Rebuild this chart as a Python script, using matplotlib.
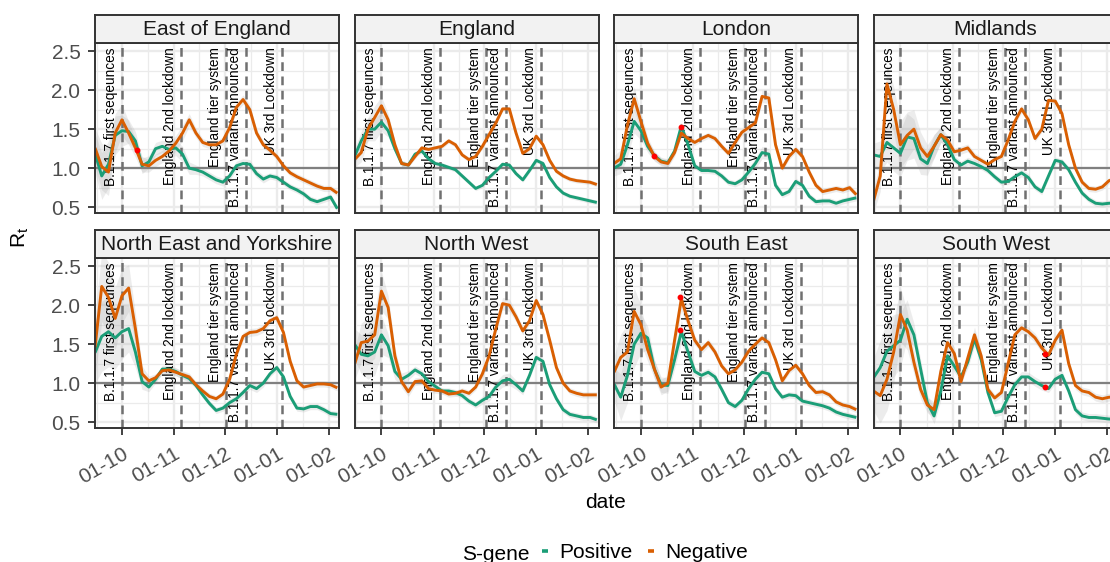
import matplotlib
matplotlib.use("Agg")
import matplotlib.pyplot as plt
import matplotlib.dates as mdates
from matplotlib.lines import Line2D
from matplotlib.ticker import FixedLocator
import pandas as pd

plt.rcParams['font.family'] = ['Liberation Sans', 'DejaVu Sans']
plt.rcParams['mathtext.fontset'] = 'custom'
plt.rcParams['mathtext.rm'] = 'Liberation Sans'
plt.rcParams['mathtext.it'] = 'Liberation Sans:italic'

# ---------------- data ----------------
dates = pd.date_range("2020-09-15", periods=37, freq="4D")

regions = ["East of England", "England", "London", "Midlands",
           "North East and Yorkshire", "North West", "South East", "South West"]

pos_east_of_england = [1.19, 0.90, 1.05, 1.42, 1.48, 1.47, 1.35, 1.03, 1.08, 1.25, 1.28, 1.24, 1.26, 1.18, 1.00, 0.98, 0.95, 0.90, 0.85, 0.82, 0.90, 1.03, 1.06, 1.05, 0.93, 0.86, 0.90, 0.88, 0.82, 0.76, 0.72, 0.67, 0.60, 0.57, 0.60, 0.63, 0.48]
neg_east_of_england = [1.26, 1.02, 0.95, 1.45, 1.62, 1.45, 1.26, 1.05, 1.03, 1.10, 1.15, 1.22, 1.32, 1.45, 1.62, 1.45, 1.33, 1.30, 1.30, 1.35, 1.52, 1.78, 1.88, 1.75, 1.45, 1.30, 1.23, 1.15, 1.03, 0.94, 0.89, 0.85, 0.81, 0.77, 0.74, 0.74, 0.68]

pos_england = [1.15, 1.35, 1.50, 1.50, 1.59, 1.48, 1.25, 1.06, 1.04, 1.18, 1.22, 1.12, 1.06, 1.04, 1.01, 0.98, 0.90, 0.82, 0.74, 0.78, 0.88, 0.96, 1.05, 1.04, 0.93, 0.85, 0.97, 1.10, 1.06, 0.88, 0.76, 0.68, 0.64, 0.62, 0.60, 0.58, 0.56]
neg_england = [1.11, 1.20, 1.50, 1.65, 1.80, 1.62, 1.30, 1.06, 1.04, 1.15, 1.26, 1.24, 1.26, 1.28, 1.35, 1.30, 1.17, 1.11, 1.15, 1.28, 1.43, 1.58, 1.76, 1.76, 1.45, 1.19, 1.25, 1.41, 1.30, 1.10, 0.96, 0.90, 0.86, 0.84, 0.83, 0.82, 0.79]

pos_london = [1.00, 1.05, 1.30, 1.60, 1.48, 1.28, 1.16, 1.09, 1.07, 1.22, 1.54, 1.30, 1.03, 0.97, 0.97, 0.96, 0.90, 0.82, 0.80, 0.85, 0.95, 1.06, 1.20, 1.18, 0.78, 0.66, 0.70, 0.83, 0.78, 0.64, 0.57, 0.58, 0.58, 0.55, 0.58, 0.60, 0.62]
neg_london = [1.06, 1.12, 1.55, 1.89, 1.60, 1.32, 1.15, 1.08, 1.06, 1.20, 1.45, 1.38, 1.33, 1.38, 1.42, 1.38, 1.28, 1.19, 1.33, 1.46, 1.52, 1.58, 1.92, 1.90, 1.30, 1.00, 1.15, 1.24, 1.15, 0.95, 0.78, 0.70, 0.72, 0.74, 0.72, 0.75, 0.66]

pos_midlands = [1.17, 1.15, 1.33, 1.26, 1.19, 1.40, 1.38, 1.12, 1.06, 1.28, 1.43, 1.30, 1.11, 1.04, 1.09, 1.06, 1.02, 0.97, 0.89, 0.82, 0.83, 0.89, 0.94, 0.88, 0.76, 0.70, 0.90, 1.10, 1.08, 0.98, 0.82, 0.68, 0.60, 0.55, 0.54, 0.55, 0.55]
neg_midlands = [0.58, 0.90, 2.08, 1.75, 1.30, 1.42, 1.50, 1.26, 1.15, 1.28, 1.43, 1.36, 1.21, 1.23, 1.26, 1.15, 1.10, 1.05, 1.11, 1.15, 1.36, 1.60, 1.76, 1.62, 1.38, 1.50, 1.87, 1.86, 1.70, 1.30, 1.00, 0.82, 0.74, 0.73, 0.76, 0.84, 0.86]

pos_north_east = [1.39, 1.60, 1.66, 1.58, 1.66, 1.70, 1.40, 1.02, 0.95, 1.05, 1.18, 1.18, 1.15, 1.10, 1.06, 0.97, 0.85, 0.74, 0.65, 0.68, 0.75, 0.80, 0.88, 0.97, 0.93, 1.00, 1.12, 1.20, 1.08, 0.83, 0.68, 0.67, 0.70, 0.70, 0.66, 0.61, 0.60]
neg_north_east = [1.46, 2.24, 2.10, 1.83, 2.12, 2.22, 1.70, 1.12, 1.03, 1.07, 1.16, 1.17, 1.14, 1.11, 1.08, 0.98, 0.90, 0.83, 0.80, 0.86, 1.05, 1.37, 1.60, 1.65, 1.66, 1.70, 1.80, 1.84, 1.65, 1.28, 1.03, 0.95, 0.97, 0.99, 0.99, 0.98, 0.94]

pos_north_west = [1.50, 1.37, 1.35, 1.40, 1.62, 1.48, 1.15, 1.05, 1.10, 1.17, 1.12, 1.02, 0.96, 0.90, 0.90, 0.88, 0.84, 0.77, 0.72, 0.78, 0.83, 0.95, 1.03, 1.05, 0.98, 0.90, 1.10, 1.33, 1.28, 0.98, 0.80, 0.66, 0.60, 0.58, 0.56, 0.56, 0.53]
neg_north_west = [1.24, 1.52, 1.54, 1.62, 2.18, 1.97, 1.35, 1.02, 0.89, 1.02, 1.03, 0.93, 0.91, 0.90, 0.86, 0.87, 0.90, 0.87, 0.95, 1.12, 1.35, 1.70, 2.02, 2.00, 1.85, 1.67, 1.80, 2.06, 1.88, 1.55, 1.20, 1.00, 0.90, 0.87, 0.85, 0.85, 0.85]

pos_south_east = [0.99, 0.82, 1.10, 1.50, 1.64, 1.58, 1.18, 0.98, 0.97, 1.30, 1.66, 1.40, 1.15, 1.10, 1.14, 1.08, 0.92, 0.75, 0.70, 0.78, 0.93, 1.05, 1.14, 1.12, 0.93, 0.82, 0.85, 0.84, 0.77, 0.75, 0.73, 0.71, 0.68, 0.63, 0.60, 0.58, 0.56]
neg_south_east = [1.14, 1.33, 1.40, 1.92, 1.75, 1.43, 1.18, 0.95, 1.00, 1.55, 2.08, 1.80, 1.55, 1.43, 1.52, 1.40, 1.22, 1.12, 1.17, 1.27, 1.41, 1.50, 1.58, 1.52, 1.30, 1.03, 1.16, 1.23, 1.12, 0.97, 0.88, 0.89, 0.85, 0.76, 0.72, 0.70, 0.66]

pos_south_west = [1.07, 1.20, 1.41, 1.48, 1.55, 1.82, 1.62, 1.18, 0.75, 0.58, 0.90, 1.35, 1.22, 1.08, 1.27, 1.57, 1.30, 0.88, 0.62, 0.64, 0.82, 0.98, 1.08, 1.08, 1.02, 0.97, 0.93, 1.05, 1.10, 0.90, 0.66, 0.58, 0.56, 0.56, 0.55, 0.54, 0.54]
neg_south_west = [0.90, 0.84, 1.05, 1.40, 1.88, 1.68, 1.27, 0.92, 0.72, 0.66, 1.15, 1.52, 1.38, 1.02, 1.32, 1.62, 1.35, 0.92, 0.81, 0.88, 1.25, 1.62, 1.71, 1.66, 1.58, 1.45, 1.36, 1.55, 1.68, 1.25, 0.97, 0.90, 0.88, 0.82, 0.80, 0.82, 0.82]

# half-width of the grey uncertainty ribbon
band_east_of_england = [0.25, 0.30, 0.30, 0.25, 0.20, 0.15, 0.12, 0.10, 0.08, 0.08, 0.08, 0.10, 0.10, 0.10, 0.08, 0.06, 0.05, 0.05, 0.05, 0.05, 0.05, 0.06, 0.06, 0.06, 0.05, 0.05, 0.04, 0.04, 0.04, 0.04, 0.04, 0.04, 0.04, 0.04, 0.04, 0.04, 0.04]
band_england = [0.10, 0.12, 0.15, 0.15, 0.12, 0.08, 0.05, 0.04, 0.03, 0.03, 0.03, 0.03, 0.03, 0.03, 0.03, 0.03, 0.03, 0.03, 0.03, 0.03, 0.03, 0.03, 0.03, 0.03, 0.03, 0.03, 0.03, 0.03, 0.03, 0.03, 0.03, 0.03, 0.03, 0.03, 0.03, 0.03, 0.03]
band_london = [0.10, 0.12, 0.15, 0.15, 0.12, 0.08, 0.06, 0.05, 0.05, 0.05, 0.05, 0.05, 0.04, 0.04, 0.04, 0.04, 0.04, 0.04, 0.04, 0.05, 0.06, 0.07, 0.08, 0.07, 0.05, 0.04, 0.04, 0.04, 0.04, 0.04, 0.04, 0.04, 0.04, 0.04, 0.04, 0.04, 0.04]
band_midlands = [0.15, 0.20, 0.25, 0.30, 0.30, 0.30, 0.25, 0.20, 0.15, 0.15, 0.10, 0.06, 0.05, 0.05, 0.05, 0.05, 0.04, 0.04, 0.04, 0.04, 0.04, 0.05, 0.05, 0.05, 0.04, 0.04, 0.04, 0.04, 0.04, 0.04, 0.04, 0.04, 0.04, 0.04, 0.04, 0.04, 0.04]
band_north_east = [0.40, 0.45, 0.45, 0.40, 0.35, 0.30, 0.20, 0.10, 0.06, 0.05, 0.05, 0.05, 0.05, 0.05, 0.05, 0.04, 0.04, 0.04, 0.04, 0.04, 0.05, 0.05, 0.05, 0.05, 0.05, 0.05, 0.04, 0.04, 0.04, 0.04, 0.04, 0.04, 0.04, 0.04, 0.04, 0.04, 0.04]
band_north_west = [0.20, 0.25, 0.30, 0.30, 0.25, 0.15, 0.10, 0.08, 0.06, 0.05, 0.05, 0.05, 0.04, 0.04, 0.04, 0.04, 0.04, 0.04, 0.04, 0.05, 0.06, 0.07, 0.08, 0.08, 0.06, 0.05, 0.04, 0.04, 0.04, 0.04, 0.04, 0.04, 0.04, 0.04, 0.04, 0.04, 0.04]
band_south_east = [0.20, 0.30, 0.35, 0.30, 0.25, 0.15, 0.12, 0.10, 0.10, 0.12, 0.15, 0.10, 0.06, 0.05, 0.05, 0.05, 0.04, 0.04, 0.04, 0.04, 0.05, 0.05, 0.05, 0.05, 0.04, 0.04, 0.04, 0.04, 0.04, 0.04, 0.04, 0.04, 0.04, 0.04, 0.04, 0.04, 0.04]
band_south_west = [0.25, 0.35, 0.40, 0.40, 0.35, 0.25, 0.15, 0.12, 0.10, 0.10, 0.12, 0.10, 0.08, 0.06, 0.08, 0.10, 0.06, 0.05, 0.05, 0.05, 0.06, 0.07, 0.07, 0.06, 0.06, 0.06, 0.05, 0.06, 0.06, 0.05, 0.05, 0.05, 0.05, 0.05, 0.05, 0.05, 0.05]

positive = [pos_east_of_england, pos_england, pos_london, pos_midlands,
            pos_north_east, pos_north_west, pos_south_east, pos_south_west]
negative = [neg_east_of_england, neg_england, neg_london, neg_midlands,
            neg_north_east, neg_north_west, neg_south_east, neg_south_west]
bands = [band_east_of_england, band_england, band_london, band_midlands,
         band_north_east, band_north_west, band_south_east, band_south_west]

event_labels = ["B.1.1.7 first seqeunces", "England 2nd lockdown", "England tier system",
                "B.1.1.7 variant announced", "UK 3rd Lockdown"]
event_dates = pd.to_datetime(["2020-10-01", "2020-11-05", "2020-12-02", "2020-12-14", "2021-01-04"])

red_regions = ["East of England", "London", "London", "South East", "South East", "South West", "South West"]
red_dates = pd.to_datetime(["2020-10-10", "2020-10-09", "2020-10-25", "2020-10-24", "2020-10-24", "2020-12-26", "2020-12-26"])
red_values = [1.23, 1.16, 1.53, 2.11, 1.68, 1.37, 0.95]

series_labels = ["Positive", "Negative"]
series_colors = ["#1B9E77", "#D95F02"]

# ---------------- layout ----------------
W, H = 1110, 562
fig = plt.figure(figsize=(W / 100, H / 100), dpi=100)

col_left = [95, 354.5, 614, 873.5]
panel_w = 244
row_top = [43, 258]
panel_h = 170
strip_h = 28.5

xlim = (pd.Timestamp("2020-09-15"), pd.Timestamp("2021-02-07"))
ylim = (0.425, 2.605)
month_starts = pd.date_range("2020-09-01", "2021-03-01", freq="MS")
minor_x = [mdates.date2num(a + (b - a) / 2) for a, b in zip(month_starts[:-1], month_starts[1:])]

border_col = "#333333"
for i, region in enumerate(regions):
    r, c = divmod(i, 4)
    x0, y0 = col_left[c], row_top[r]
    ax = fig.add_axes([x0 / W, 1 - (y0 + panel_h) / H, panel_w / W, panel_h / H])
    sax = fig.add_axes([x0 / W, 1 - y0 / H, panel_w / W, strip_h / H])

    # strip
    sax.set_facecolor("#F2F2F2")
    sax.set_xticks([]); sax.set_yticks([])
    for s in sax.spines.values():
        s.set_color(border_col); s.set_linewidth(1.4)
    sax.text(0.5, 0.47, region, transform=sax.transAxes, ha="center", va="center",
             fontsize=15, color="#1A1A1A")

    # panel
    ax.set_xlim(*xlim)
    ax.set_ylim(*ylim)
    ax.set_axisbelow(True)
    ax.xaxis.set_major_locator(mdates.MonthLocator(bymonthday=1))
    ax.xaxis.set_major_formatter(mdates.DateFormatter("%d-%m"))
    ax.xaxis.set_minor_locator(FixedLocator(minor_x))
    ax.set_yticks([0.5, 1.0, 1.5, 2.0, 2.5])
    ax.yaxis.set_minor_locator(FixedLocator([0.25, 0.75, 1.25, 1.75, 2.25]))
    ax.grid(which="major", color="#EBEBEB", lw=1.7)
    ax.grid(which="minor", color="#EBEBEB", lw=0.9)
    for s in ax.spines.values():
        s.set_color(border_col); s.set_linewidth(1.4); s.set_zorder(10)
    ax.tick_params(which="minor", length=0)
    ax.tick_params(which="major", length=5, width=1.3, color=border_col,
                   labelsize=15, labelcolor="#4D4D4D")
    ax.tick_params(axis="y", pad=5.5)
    ax.tick_params(axis="x", pad=6.5)
    if r == 0:
        ax.tick_params(axis="x", length=0, labelbottom=False)
    else:
        for lab in ax.get_xticklabels():
            lab.set_rotation(30)
            lab.set_ha("right")
            lab.set_va("top")
            lab.set_rotation_mode("anchor")
    if c != 0:
        ax.tick_params(axis="y", length=0, labelleft=False)

    # reference lines and event annotations
    ax.axhline(1.0, color="#808080", lw=1.6, zorder=2)
    for lab, ed in zip(event_labels, event_dates):
        ax.axvline(ed, color="#707070", lw=1.8, ls=(0, (3.5, 2.2)), zorder=2)
        ax.annotate(lab, xy=(ed, 1.0), xycoords=("data", "axes fraction"),
                    xytext=(-3, -3), textcoords="offset points", rotation=90,
                    ha="right", va="top", fontsize=9.8, color="black", zorder=3)

    # ribbons and lines
    for vals, col in zip([positive[i], negative[i]], series_colors):
        lo = [v - w for v, w in zip(vals, bands[i])]
        hi = [v + w for v, w in zip(vals, bands[i])]
        ax.fill_between(dates, lo, hi, color="#9A9A9A", alpha=0.18, lw=0, zorder=1.5)
    for vals, col in zip([positive[i], negative[i]], series_colors):
        ax.plot(dates, vals, color=col, lw=2.1, zorder=4,
                solid_capstyle="butt", solid_joinstyle="round")

    for rr, rd, rv in zip(red_regions, red_dates, red_values):
        if rr == region:
            ax.plot([rd], [rv], "o", color="red", ms=3.2, zorder=5)

# axis titles
fig.text(606 / W, 1 - 507.5 / H, "date", ha="center", va="baseline", fontsize=15)
fig.text(20 / W, 1 - 237 / H, r"$\mathregular{R_t}$", ha="center", va="center",
         rotation=90, fontsize=15)

# legend
fig.text(462 / W, 1 - 559.5 / H, "S-gene", ha="left", va="baseline", fontsize=15)
handles = [Line2D([], [], color=col, lw=2.6, solid_capstyle="butt") for col in series_colors]
fig.legend(handles, series_labels, loc="center left",
           bbox_to_anchor=(542 / W, 1 - 552.5 / H), ncol=2, frameon=False, fontsize=15,
           handlelength=0.3, handletextpad=0.55, columnspacing=0.72,
           borderpad=0, borderaxespad=0)

fig.savefig("out.png", dpi=100)
